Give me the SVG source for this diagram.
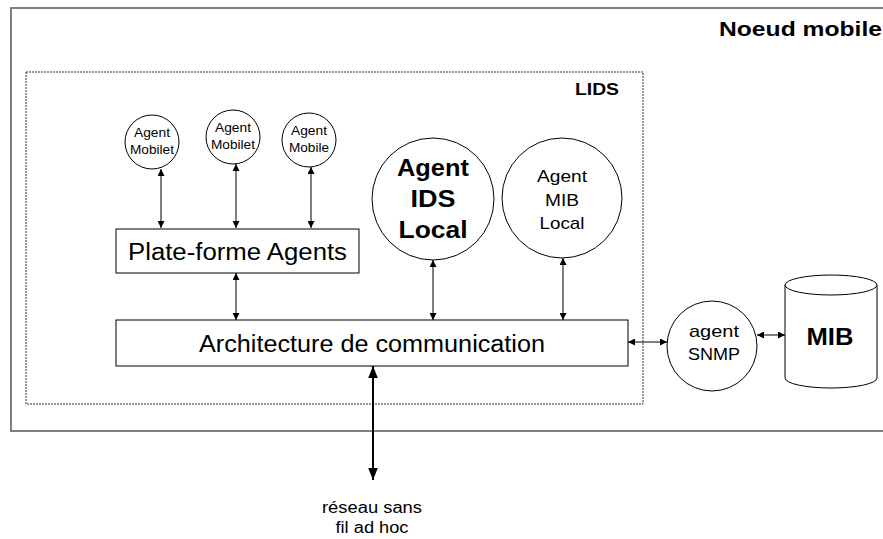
<svg xmlns="http://www.w3.org/2000/svg" width="883" height="539" viewBox="0 0 883 539">
<style>
  .t{font-family:"Liberation Sans",Arial,sans-serif;fill:#000}
  .b{font-weight:bold}
  .node{fill:#fff;stroke:#000;stroke-width:1}
  .conn{stroke:#000;stroke-width:1;fill:none}
  .thick{stroke:#000;stroke-width:2;fill:none}
</style>
<defs>
  <marker id="ah" viewBox="0 0 10 10" refX="10" refY="5" markerWidth="7" markerHeight="7" markerUnits="userSpaceOnUse" orient="auto-start-reverse">
    <path d="M0,0 L10,5 L0,10 z" fill="#000"/>
  </marker>
  <marker id="ahb" viewBox="0 0 10 10" refX="10" refY="5" markerWidth="12" markerHeight="12" markerUnits="userSpaceOnUse" orient="auto-start-reverse">
    <path d="M0,1 L10,5 L0,9 z" fill="#000"/>
  </marker>
</defs>
<rect width="883" height="539" fill="#fff"/>

<g id="noeud-mobile">
  <path d="M890,8 H11 V431 H890" fill="none" stroke="#808080" stroke-width="2"/>
  <text class="t b" x="719" y="36" font-size="20" textLength="163" lengthAdjust="spacingAndGlyphs">Noeud mobile</text>
</g>

<g id="lids">
  <rect x="26" y="72" width="617" height="332" fill="none" stroke="#333" stroke-width="1" stroke-dasharray="2,1"/>
  <text class="t b" x="575" y="95" font-size="16" textLength="44" lengthAdjust="spacingAndGlyphs">LIDS</text>
</g>

<g id="connectors">
  <line class="conn" x1="161" y1="169" x2="161" y2="228" marker-start="url(#ah)" marker-end="url(#ah)"/>
  <line class="conn" x1="236" y1="164" x2="236" y2="228" marker-start="url(#ah)" marker-end="url(#ah)"/>
  <line class="conn" x1="311" y1="167" x2="311" y2="228" marker-start="url(#ah)" marker-end="url(#ah)"/>
  <line class="conn" x1="236" y1="273" x2="236" y2="320" marker-start="url(#ah)" marker-end="url(#ah)"/>
  <line class="conn" x1="433" y1="260" x2="433" y2="320" marker-start="url(#ah)" marker-end="url(#ah)"/>
  <line class="conn" x1="563" y1="258" x2="563" y2="320" marker-start="url(#ah)" marker-end="url(#ah)"/>
  <line class="conn" x1="628" y1="342" x2="667" y2="342" marker-start="url(#ah)" marker-end="url(#ah)"/>
  <line class="conn" x1="757" y1="335" x2="785" y2="335" marker-start="url(#ah)" marker-end="url(#ah)"/>
  <line class="thick" x1="373" y1="366" x2="373" y2="480" marker-start="url(#ahb)" marker-end="url(#ahb)"/>
</g>

<g id="agent-mobilet-1">
  <circle class="node" cx="152" cy="142" r="27"/>
  <text class="t" x="152" y="137" font-size="12.5" text-anchor="middle" textLength="36" lengthAdjust="spacingAndGlyphs">Agent</text>
  <text class="t" x="152" y="154" font-size="12.5" text-anchor="middle" textLength="44" lengthAdjust="spacingAndGlyphs">Mobilet</text>
</g>
<g id="agent-mobilet-2">
  <circle class="node" cx="233" cy="137" r="27"/>
  <text class="t" x="233" y="132" font-size="12.5" text-anchor="middle" textLength="36" lengthAdjust="spacingAndGlyphs">Agent</text>
  <text class="t" x="233" y="149" font-size="12.5" text-anchor="middle" textLength="44" lengthAdjust="spacingAndGlyphs">Mobilet</text>
</g>
<g id="agent-mobile-3">
  <circle class="node" cx="309" cy="140" r="27"/>
  <text class="t" x="309" y="135" font-size="12.5" text-anchor="middle" textLength="36" lengthAdjust="spacingAndGlyphs">Agent</text>
  <text class="t" x="309" y="152" font-size="12.5" text-anchor="middle" textLength="40" lengthAdjust="spacingAndGlyphs">Mobile</text>
</g>

<g id="plate-forme">
  <rect class="node" x="116" y="229" width="243" height="44"/>
  <text class="t" x="237.5" y="260" font-size="23" text-anchor="middle" textLength="219" lengthAdjust="spacingAndGlyphs">Plate-forme Agents</text>
</g>

<g id="agent-ids-local">
  <circle class="node" cx="433" cy="199" r="61"/>
  <text class="t b" x="433" y="176" font-size="23" text-anchor="middle" textLength="72" lengthAdjust="spacingAndGlyphs">Agent</text>
  <text class="t b" x="433" y="207" font-size="23" text-anchor="middle" textLength="45" lengthAdjust="spacingAndGlyphs">IDS</text>
  <text class="t b" x="433" y="238" font-size="23" text-anchor="middle" textLength="69" lengthAdjust="spacingAndGlyphs">Local</text>
</g>

<g id="agent-mib-local">
  <circle class="node" cx="562" cy="198" r="60"/>
  <text class="t" x="562" y="182" font-size="17" text-anchor="middle" textLength="50" lengthAdjust="spacingAndGlyphs">Agent</text>
  <text class="t" x="562" y="206" font-size="17" text-anchor="middle" textLength="34" lengthAdjust="spacingAndGlyphs">MIB</text>
  <text class="t" x="562" y="229" font-size="17" text-anchor="middle" textLength="45" lengthAdjust="spacingAndGlyphs">Local</text>
</g>

<g id="architecture">
  <rect class="node" x="116" y="320" width="512" height="46"/>
  <text class="t" x="372" y="352" font-size="23" text-anchor="middle" textLength="346" lengthAdjust="spacingAndGlyphs">Architecture de communication</text>
</g>

<g id="agent-snmp">
  <circle class="node" cx="712" cy="346" r="45"/>
  <text class="t" x="714" y="337" font-size="17" text-anchor="middle" textLength="50" lengthAdjust="spacingAndGlyphs">agent</text>
  <text class="t" x="714" y="360" font-size="17" text-anchor="middle" textLength="52" lengthAdjust="spacingAndGlyphs">SNMP</text>
</g>

<g id="mib">
  <path class="node" d="M785,285 V378 A46,10 0 0 0 877,378 V285"/>
  <ellipse class="node" cx="831" cy="285" rx="46" ry="10"/>
  <text class="t b" x="830" y="345" font-size="23" text-anchor="middle" textLength="47" lengthAdjust="spacingAndGlyphs">MIB</text>
</g>

<g id="reseau">
  <text class="t" x="372" y="513" font-size="16" text-anchor="middle" textLength="100" lengthAdjust="spacingAndGlyphs">réseau sans</text>
  <text class="t" x="372" y="533" font-size="16" text-anchor="middle" textLength="73" lengthAdjust="spacingAndGlyphs">fil ad hoc</text>
</g>
</svg>
